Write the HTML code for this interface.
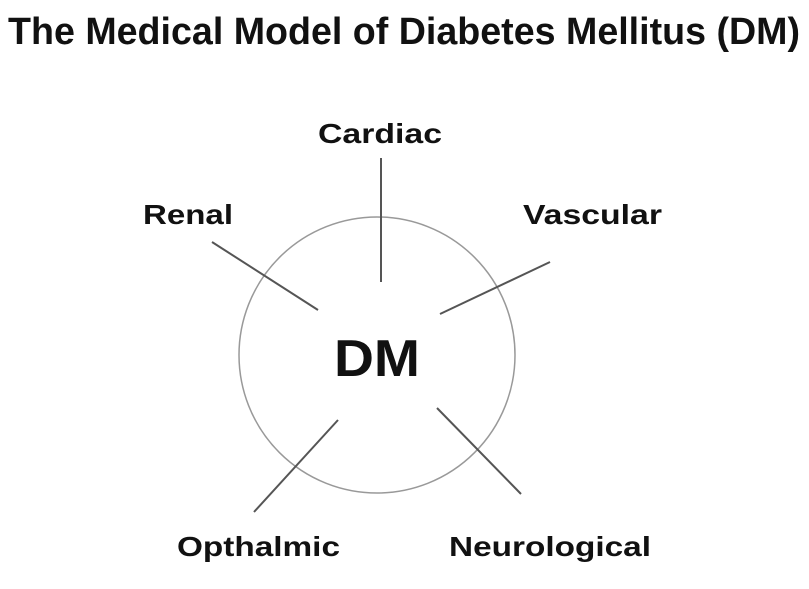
<!DOCTYPE html>
<html><head><style>
html,body{margin:0;padding:0;background:#fff;}
svg{display:block;}
text{font-family:"Liberation Sans",sans-serif;font-weight:bold;fill:#111;}
</style></head><body>
<svg width="809" height="589" viewBox="0 0 809 589" xmlns="http://www.w3.org/2000/svg">
<text x="8" y="44" font-size="38" textLength="792" lengthAdjust="spacingAndGlyphs">The Medical Model of Diabetes Mellitus (DM)</text>
<circle cx="377" cy="355" r="138" fill="none" stroke="#999" stroke-width="1.5"/>
<g stroke="#555" stroke-width="2">
<line x1="381" y1="158" x2="381" y2="282"/>
<line x1="212" y1="242" x2="318" y2="310"/>
<line x1="550" y1="262" x2="440" y2="314"/>
<line x1="338" y1="420" x2="254" y2="512"/>
<line x1="437" y1="408" x2="521" y2="494"/>
</g>
<text x="318" y="143" font-size="28" textLength="124" lengthAdjust="spacingAndGlyphs">Cardiac</text>
<text x="143" y="224" font-size="28" textLength="90" lengthAdjust="spacingAndGlyphs">Renal</text>
<text x="523" y="224" font-size="28" textLength="139" lengthAdjust="spacingAndGlyphs">Vascular</text>
<text x="177" y="556" font-size="28" textLength="163" lengthAdjust="spacingAndGlyphs">Opthalmic</text>
<text x="449" y="556" font-size="28" textLength="202" lengthAdjust="spacingAndGlyphs">Neurological</text>
<text x="334" y="376" font-size="52" textLength="86" lengthAdjust="spacingAndGlyphs">DM</text>
</svg>
</body></html>
